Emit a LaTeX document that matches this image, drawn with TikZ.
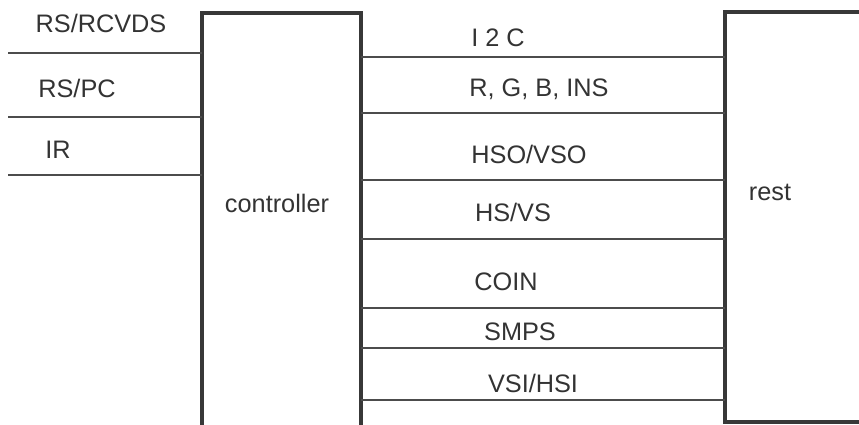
\documentclass[tikz,border=0pt]{standalone}
\usepackage{fontspec}
\setmainfont{Liberation Sans}
\begin{document}
\begin{tikzpicture}[x=1pt,y=-1pt,
  box/.style={draw=black!78,line width=3.6pt,line cap=rect},
  sig/.style={draw=black!70,line width=1.6pt},
  lbl/.style={anchor=base,inner sep=0pt,text=black!80,font=\fontsize{25.3}{29}\selectfont}]
\useasboundingbox (0,0) rectangle (859,425);
% box corners
\coordinate (cbl) at (202,430);
\coordinate (ctl) at (202,13);
\coordinate (ctr) at (361,13);
\coordinate (cbr) at (361,430);
\coordinate (rtr) at (865,12);
\coordinate (rtl) at (725,12);
\coordinate (rbl) at (725,422);
\coordinate (rbr) at (865,422);
\draw[box] (cbl) -- (ctl) -- (ctr) -- (cbr);
\draw[box] (rtr) -- (rtl) -- (rbl) -- (rbr);
% text
\node[lbl] (controller) at (277,212) {controller};
\node[lbl] (rest) at (770,200) {rest};
\node[lbl] (t1) at (101,33) {RS/RCVDS};
\node[lbl] (t2) at (77,98) {RS/PC};
\node[lbl] (t3) at (58,158) {IR};
\node[lbl] (r1) at (498,47) {I 2 C};
\node[lbl] (r2) at (539,97) {R, G, B, INS};
\node[lbl] (r3) at (529,163) {HSO/VSO};
\node[lbl] (r4) at (513,221) {HS/VS};
\node[lbl] (r5) at (506,290) {COIN};
\node[lbl] (r6) at (520,340) {SMPS};
\node[lbl] (r7) at (533,392) {VSI/HSI};
% left signal lines
\foreach \y [count=\i] in {53,117,175}{
  \coordinate (la\i) at (8,\y);
  \coordinate (lb\i) at (202,\y);
  \draw[sig] (la\i) -- (lb\i);
}
% right signal lines
\foreach \y [count=\i] in {57,113,180,239,308,348,400}{
  \coordinate (ra\i) at (361,\y);
  \coordinate (rb\i) at (725,\y);
  \draw[sig] (ra\i) -- (rb\i);
}
\end{tikzpicture}
\end{document}
